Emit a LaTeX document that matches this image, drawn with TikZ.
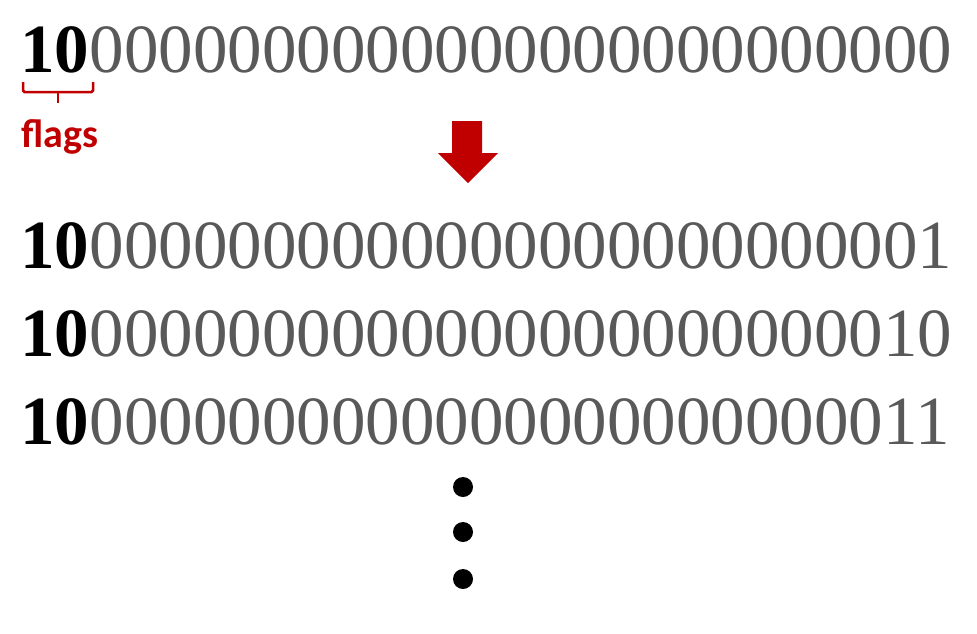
\documentclass[tikz,border=0pt]{standalone}
\usepackage{fontspec}
\setmainfont{Liberation Serif}
\newfontfamily\labelfont{Carlito}
\usetikzlibrary{positioning}

\definecolor{flagred}{RGB}{192,0,0}
\definecolor{bitgray}{RGB}{89,89,89}

\tikzset{
  flagbits/.style={inner sep=0pt, anchor=base west, font=\fontsize{69}{69}\selectfont\bfseries},
  restbits/.style={inner sep=0pt, anchor=base west, text=bitgray, font=\fontsize{69}{69}\selectfont},
  dot/.style={fill=black},
}

\begin{document}
\begin{tikzpicture}[x=1pt,y=-1pt]
        \useasboundingbox (0,0) rectangle (977,633);

        %start value
        \node[flagbits] (f0) at (20,72) {10};
        \node[restbits] (b0) at (f0.base east) {0000000000000000000000000};

        %brace under the flag bits
        \draw[flagred, line width=2.5pt, rounded corners=1.5pt] (23,82) -- (23,92) -- (93,92) -- (93,82);
        \draw[flagred, line width=2.5pt] (58,92) -- (58,103);
        \node[anchor=base west, inner sep=0pt, text=flagred,
              font=\labelfont\bfseries\fontsize{40}{40}\selectfont] (flags) at (21,147) {flags};

        %arrow
        \fill[flagred] (452,121) -- (482,121) -- (482,153) -- (498,153) -- (468,183)
                -- (438,153) -- (452,153) -- cycle;

        %counted values
        \foreach \rest/\y [count=\i] in {0000000000000000000000001/268,
                                         0000000000000000000000010/356,
                                         0000000000000000000000011/444} {
            \node[flagbits] (f\i) at (20,\y) {10};
            \node[restbits] (b\i) at (f\i.base east) {\rest};
        }

        %dots
        \fill[dot] (463,487) circle (10);
        \fill[dot] (463,532) circle (10);
        \fill[dot] (463,579) circle (10);
\end{tikzpicture}
\end{document}
